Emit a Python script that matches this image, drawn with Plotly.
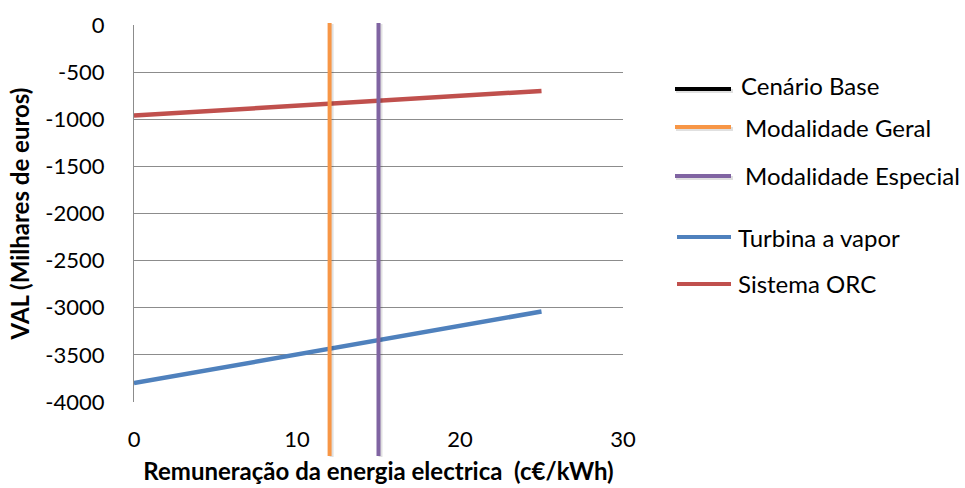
import plotly.graph_objects as go

# Remuneração da energia eléctrica (c€/kWh)
remuneracao = [0, 25]
# VAL (milhares de euros) por tecnologia
turbina_vapor = [-3800, -3040]
sistema_orc = [-960, -700]
# Tarifas de referência (c€/kWh)
modalidade_geral = 12
modalidade_especial = 15

x_ticks = [0, 10, 20, 30]
y_ticks = [0, -500, -1000, -1500, -2000, -2500, -3000, -3500, -4000]

W, H = 965, 488
L, R, T, B = 134, 342, 25, 86
PW, PH = W - L - R, H - T - B
X_RANGE = [0, 30]

BLUE = "#4F81BD"
RED = "#C0504D"
ORANGE = "#F79646"
PURPLE = "#8064A2"
BLACK = "#000000"
GRID = "#8c8c8c"
FONT = "Lato, 'Open Sans', sans-serif"
TICK_SIZE = 22
TEXT_SIZE = 24


def px(xp):
    return (xp - L) / PW


def py(yp):
    return (H - B - yp) / PH


# data units per screen pixel along x, used for the soft drop shadow
DX = (X_RANGE[1] - X_RANGE[0]) / PW

fig = go.Figure()

fig.add_trace(go.Scatter(x=remuneracao, y=turbina_vapor, mode="lines",
                         line=dict(color=BLUE, width=4.5), name="Turbina a vapor",
                         showlegend=False))
fig.add_trace(go.Scatter(x=remuneracao, y=sistema_orc, mode="lines",
                         line=dict(color=RED, width=4.5), name="Sistema ORC",
                         showlegend=False))

shapes = []
# vertical tariff markers, extending past the plot frame
for xv, col in [(modalidade_geral, ORANGE), (modalidade_especial, PURPLE)]:
    shapes.append(dict(type="line", xref="x", yref="paper",
                       x0=xv + 2 * DX, x1=xv + 2 * DX,
                       y0=py(457), y1=py(24),
                       line=dict(color="rgba(0,0,0,0.12)", width=4),
                       layer="above"))
    shapes.append(dict(type="line", xref="x", yref="paper", x0=xv, x1=xv,
                       y0=py(456), y1=py(23), line=dict(color=col, width=4),
                       layer="above"))

# legend built from line samples and labels
legend_items = [
    ("Cenário Base", BLACK, 89, 85, 739, 675),
    ("Modalidade Geral", ORANGE, 127, 128, 743, 675),
    ("Modalidade Especial", PURPLE, 176, 175, 743, 675),
    ("Turbina a vapor", BLUE, 237, 237, 736, 677),
    ("Sistema ORC", RED, 284, 283, 736, 677),
]
annotations = []
for label, col, ly, ty, tx, lx0 in legend_items:
    if lx0 < 677:
        shapes.append(dict(type="line", xref="paper", yref="paper",
                           x0=px(lx0 + 1), x1=px(733), y0=py(ly + 2), y1=py(ly + 2),
                           line=dict(color="rgba(0,0,0,0.12)", width=4)))
    shapes.append(dict(type="line", xref="paper", yref="paper",
                       x0=px(lx0), x1=px(731), y0=py(ly), y1=py(ly),
                       line=dict(color=col, width=4)))
    annotations.append(dict(text=label, xref="paper", yref="paper",
                            x=px(tx), y=py(ty), xanchor="left", yanchor="middle",
                            showarrow=False,
                            font=dict(family=FONT, size=TEXT_SIZE, color="#000")))

fig.update_layout(
    width=W, height=H,
    margin=dict(l=L, r=R, t=T, b=B, pad=0),
    paper_bgcolor="white", plot_bgcolor="white",
    font=dict(family=FONT, size=TICK_SIZE, color="#000"),
    showlegend=False,
    shapes=shapes,
    annotations=annotations,
    xaxis=dict(range=X_RANGE, tickvals=x_ticks, ticktext=[str(v) for v in x_ticks],
               showgrid=False, zeroline=False, showline=False, ticks="",
               ticklabelstandoff=22, automargin=False,
               title=dict(text="<b>Remuneração da energia electrica  (c€/kWh)</b>",
                          font=dict(family=FONT, size=TEXT_SIZE), standoff=12)),
    yaxis=dict(range=[-4000, 0], tickvals=y_ticks, ticktext=[str(v) for v in y_ticks],
               showgrid=True, gridcolor=GRID, gridwidth=1.2, zeroline=False,
               showline=True, linecolor=GRID, linewidth=1.2, ticks="",
               ticklabelstandoff=24, automargin=False,
               title=dict(text="<b>VAL (Milhares de euros)</b>",
                          font=dict(family=FONT, size=TEXT_SIZE), standoff=8)),
)

fig.write_html("out.html")
